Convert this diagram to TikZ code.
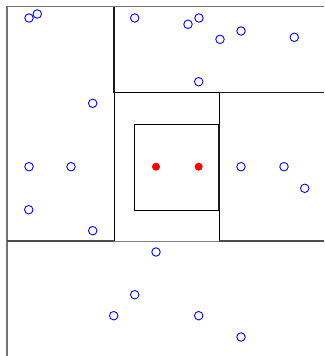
\documentclass[tikz,border=0pt]{standalone}
\begin{document}
\begin{tikzpicture}[x=1pt,y=-1pt,
  pt/.style={circle,draw=blue,line width=0.9pt,minimum size=8.5pt,inner sep=0pt},
  qpt/.style={circle,fill=red,minimum size=8pt,inner sep=0pt},
  outerln/.style={draw=black!55,line width=1.4pt},
  boldln/.style={draw=black!90,line width=1.6pt},
  thinln/.style={draw=black,line width=0.8pt},
  grayln/.style={draw=black!50,line width=1pt},
  darkln/.style={draw=black!70,line width=1.6pt}]
\useasboundingbox (0,0) rectangle (324,356);
% outer frame
\draw[outerln] (7,356) -- (7,6.7) -- (324,6.7);
% splits
\draw[boldln] (114,7) -- (114,92.5);
\draw[thinln] (114,92.5) -- (114,241);
\draw[thinln] (114,92.7) -- (219,92.7);
\draw[boldln] (219,92.3) -- (324,92.3);
\draw[thinln] (219,92.5) -- (219,124);
\draw[boldln] (219,124) -- (219,210);
\draw[thinln] (219,210) -- (219,241);
\draw[thinln] (219,124) -- (134.7,124) -- (134.7,210) -- (219,210);
\draw[darkln] (7,241) -- (114,241);
\draw[darkln] (219,241) -- (324,241);
\draw[grayln] (114,241) -- (219,241);
% points
\node[pt] (p1) at (29,18) {};
\node[pt] (p2) at (37.3,14) {};
\node[pt] (p3) at (134.7,18) {};
\node[pt] (p4) at (188,24.3) {};
\node[pt] (p5) at (199,18) {};
\node[pt] (p6) at (220,39.3) {};
\node[pt] (p7) at (241,31) {};
\node[pt] (p8) at (294.3,37.3) {};
\node[pt] (p9) at (198.7,81.7) {};
\node[pt] (p10) at (92.7,103.3) {};
\node[pt] (p11) at (29,166.7) {};
\node[pt] (p12) at (71,166.7) {};
\node[qpt] (q1) at (156,166.7) {};
\node[qpt] (q2) at (198.7,166.7) {};
\node[pt] (p13) at (241,166.7) {};
\node[pt] (p14) at (284,166.7) {};
\node[pt] (p15) at (304.7,188.3) {};
\node[pt] (p16) at (28.7,209.7) {};
\node[pt] (p17) at (92.7,230.7) {};
\node[pt] (p18) at (156,252) {};
\node[pt] (p19) at (134.7,294.7) {};
\node[pt] (p20) at (113.7,315.7) {};
\node[pt] (p21) at (198.7,315.7) {};
\node[pt] (p22) at (241,337) {};
\end{tikzpicture}
\end{document}
